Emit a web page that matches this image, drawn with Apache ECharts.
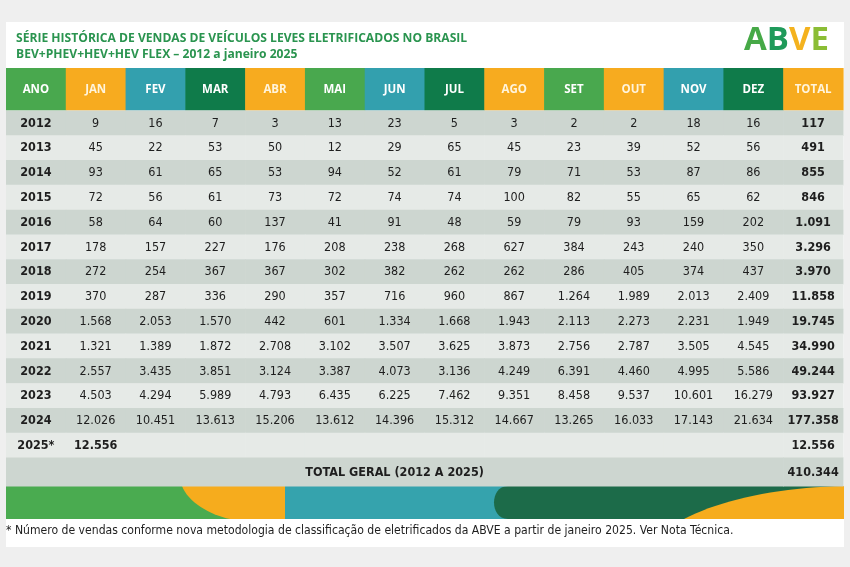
<!DOCTYPE html>
<html><head><meta charset="utf-8">
<script src="https://cdn.jsdelivr.net/npm/echarts@6/dist/echarts.min.js"></script>
<style>html,body{margin:0;padding:0;background:#efefef}#c{width:850px;height:567px}</style>
</head><body><div id="c"></div>
<script>
// ---------- data ----------
const columns = ['ANO','JAN','FEV','MAR','ABR','MAI','JUN','JUL','AGO','SET','OUT','NOV','DEZ','TOTAL'];
const years = ['2012','2013','2014','2015','2016','2017','2018','2019','2020','2021','2022','2023','2024','2025*'];
const sales2012 = [9,16,7,3,13,23,5,3,2,2,18,16];
const sales2013 = [45,22,53,50,12,29,65,45,23,39,52,56];
const sales2014 = [93,61,65,53,94,52,61,79,71,53,87,86];
const sales2015 = [72,56,61,73,72,74,74,100,82,55,65,62];
const sales2016 = [58,64,60,137,41,91,48,59,79,93,159,202];
const sales2017 = [178,157,227,176,208,238,268,627,384,243,240,350];
const sales2018 = [272,254,367,367,302,382,262,262,286,405,374,437];
const sales2019 = [370,287,336,290,357,716,960,867,1264,1989,2013,2409];
const sales2020 = [1568,2053,1570,442,601,1334,1668,1943,2113,2273,2231,1949];
const sales2021 = [1321,1389,1872,2708,3102,3507,3625,3873,2756,2787,3505,4545];
const sales2022 = [2557,3435,3851,3124,3387,4073,3136,4249,6391,4460,4995,5586];
const sales2023 = [4503,4294,5989,4793,6435,6225,7462,9351,8458,9537,10601,16279];
const sales2024 = [12026,10451,13613,15206,13612,14396,15312,14667,13265,16033,17143,21634];
const sales2025 = [12556];
const yearTotals = [117,491,855,846,1091,3296,3970,11858,19745,34990,49244,93927,177358,12556];
const grandTotalLabel = 'TOTAL GERAL (2012 A 2025)';
const grandTotal = 410344;
const monthlySales = [sales2012,sales2013,sales2014,sales2015,sales2016,sales2017,sales2018,sales2019,sales2020,sales2021,sales2022,sales2023,sales2024,sales2025];

// ---------- styles ----------
const G='#49a84e', O='#f7ab1f', T='#33a0ae', D='#0f7b4a';
const headerColors = [G,O,T,D,O,G,T,D,O,G,O,T,D,O];
const rowDark='#cdd6d0', rowLight='#e6eae7';
const numFont = "'Liberation Sans Narrow','Arial Narrow','DejaVu Sans Condensed','Open Sans',sans-serif";
const headFont = "'Open Sans','Noto Sans',sans-serif";
const fmt = n => String(n).replace(/\B(?=(\d{3})+(?!\d))/g,'.');

// ---------- cells ----------
const headerCells = columns.map((c,i)=>({c:i,r:0,text:c,bg:headerColors[i],
  color: headerColors[i]===O ? '#fff4dc' : '#ffffff', bold:true, font:headFont, size:11.5}));
const bodyCells = [];
years.forEach((y,r)=>{
  const bg = r%2===0 ? rowDark : rowLight;
  const last = r===years.length-1;
  bodyCells.push({c:0,r,text:y,bg,bold:true});
  for(let m=0;m<12;m++){
    const v = monthlySales[r][m];
    bodyCells.push({c:m+1,r,text: v==null?'':fmt(v),bg,bold:last});
  }
  bodyCells.push({c:13,r,text:fmt(yearTotals[r]),bg,bold:true});
});
const totalCells = [
  {c:0,r:0,text:grandTotalLabel,bg:rowDark,bold:true,span:13},
  {c:13,r:0,text:fmt(grandTotal),bg:rowDark,bold:true}
];

function renderer(cells){
  return function(params, api){
    const d = cells[params.dataIndex];
    const p = api.coord([api.value(0), api.value(1)]);
    const s = api.size([1,1]);
    const span = d.span||1;
    const x0 = p[0]-s[0]/2, y0 = p[1]-s[1]/2, w = s[0]*span;
    return {type:'group',children:[
      {type:'rect',shape:{x:x0,y:y0,width:w+0.6,height:s[1]+0.6},style:{fill:d.bg}},
      {type:'text',style:{text:d.text,x:x0+w/2,y:p[1]+0.5,align:'center',verticalAlign:'middle',
        fontFamily:d.font||numFont,fontSize:d.size||12.5,fontWeight:d.bold?'bold':'normal',fill:d.color||'#1e1e1e'}}
    ]};
  };
}

// bezier helper for decorative band outlines
function bez(p0,p1,p2,p3,n){const pts=[];for(let i=0;i<=n;i++){const t=i/n,u=1-t;
  pts.push([u*u*u*p0[0]+3*u*u*t*p1[0]+3*u*t*t*p2[0]+t*t*t*p3[0], u*u*u*p0[1]+3*u*u*t*p1[1]+3*u*t*t*p2[1]+t*t*t*p3[1]]);}return pts;}
const orangeLeft = [[182,486],[286,486],[286,519]].concat(bez([230,519],[210,515],[188,502],[182,486],16));
const darkGreen = [[844,486],[844,519]].concat(bez([508,519],[498,519],[494,510],[494,502.5],8)).concat(bez([494,502.5],[494,495],[498,486],[508,486],8));
const orangeRight = [[844,519]].concat(bez([684,519],[720,500],[780,487],[844,486],20));

const hiddenCat = (data,inverse)=>({type:'category',data,inverse:!!inverse,axisLine:{show:false},axisTick:{show:false},axisLabel:{show:false},splitLine:{show:false}});
const L=6, R=7;
const chart = echarts.init(document.getElementById('c'),null,{renderer:'canvas'});
chart.setOption({
  backgroundColor:'#efefef',
  animation:false,
  grid:[
    {left:L,right:R,top:68,height:42},
    {left:L,right:R,top:110.5,height:347},
    {left:L,right:R,top:457.5,height:28.5}
  ],
  xAxis:[ Object.assign(hiddenCat(columns),{gridIndex:0}), Object.assign(hiddenCat(columns),{gridIndex:1}), Object.assign(hiddenCat(columns),{gridIndex:2}) ],
  yAxis:[ Object.assign(hiddenCat(['h']),{gridIndex:0}), Object.assign(hiddenCat(years,true),{gridIndex:1}), Object.assign(hiddenCat(['t']),{gridIndex:2}) ],
  graphic:[
    {type:'rect',z:-10,shape:{x:6,y:22,width:838,height:525},style:{fill:'#ffffff'}},
    {type:'text',x:16,y:31,style:{text:'SÉRIE HISTÓRICA DE VENDAS DE VEÍCULOS LEVES ELETRIFICADOS NO BRASIL\nBEV+PHEV+HEV+HEV FLEX – 2012 a janeiro 2025',
      fontFamily:headFont,fontWeight:'bold',fontSize:12.1,lineHeight:15.5,fill:'#2a944f'}},
    {type:'text',x:744,y:24,style:{text:'{a|A}{b|B}{v|V}{e|E}',rich:{
      a:{fontSize:33,fontWeight:'bold',fontFamily:headFont,fill:'#46a947'},
      b:{fontSize:33,fontWeight:'bold',fontFamily:headFont,fill:'#1f9a5a'},
      v:{fontSize:33,fontWeight:'bold',fontFamily:headFont,fill:'#f4b21e'},
      e:{fontSize:33,fontWeight:'bold',fontFamily:headFont,fill:'#8bbd35'}}}},
    // decorative band
    {type:'rect',shape:{x:6,y:486,width:280,height:33},style:{fill:'#4aab50'}},
    {type:'polygon',shape:{points:orangeLeft},style:{fill:'#f6ac1d'}},
    {type:'rect',shape:{x:285,y:486,width:225,height:33},style:{fill:'#35a3ad'}},
    {type:'polygon',shape:{points:darkGreen},style:{fill:'#1c6b49'}},
    {type:'polygon',shape:{points:orangeRight},style:{fill:'#f6ac1d'}},
    {type:'text',x:6,y:525,style:{text:'* Número de vendas conforme nova metodologia de classificação de eletrificados da ABVE a partir de janeiro 2025. Ver Nota Técnica.',
      fontFamily:numFont,fontSize:12.1,fill:'#1e1e1e'}}
  ],
  series:[
    {type:'custom',xAxisIndex:0,yAxisIndex:0,data:headerCells.map(d=>[d.c,d.r]),renderItem:renderer(headerCells)},
    {type:'custom',xAxisIndex:1,yAxisIndex:1,data:bodyCells.map(d=>[d.c,d.r]),renderItem:renderer(bodyCells)},
    {type:'custom',xAxisIndex:2,yAxisIndex:2,data:totalCells.map(d=>[d.c,d.r]),renderItem:renderer(totalCells)}
  ]
});
</script></body></html>
